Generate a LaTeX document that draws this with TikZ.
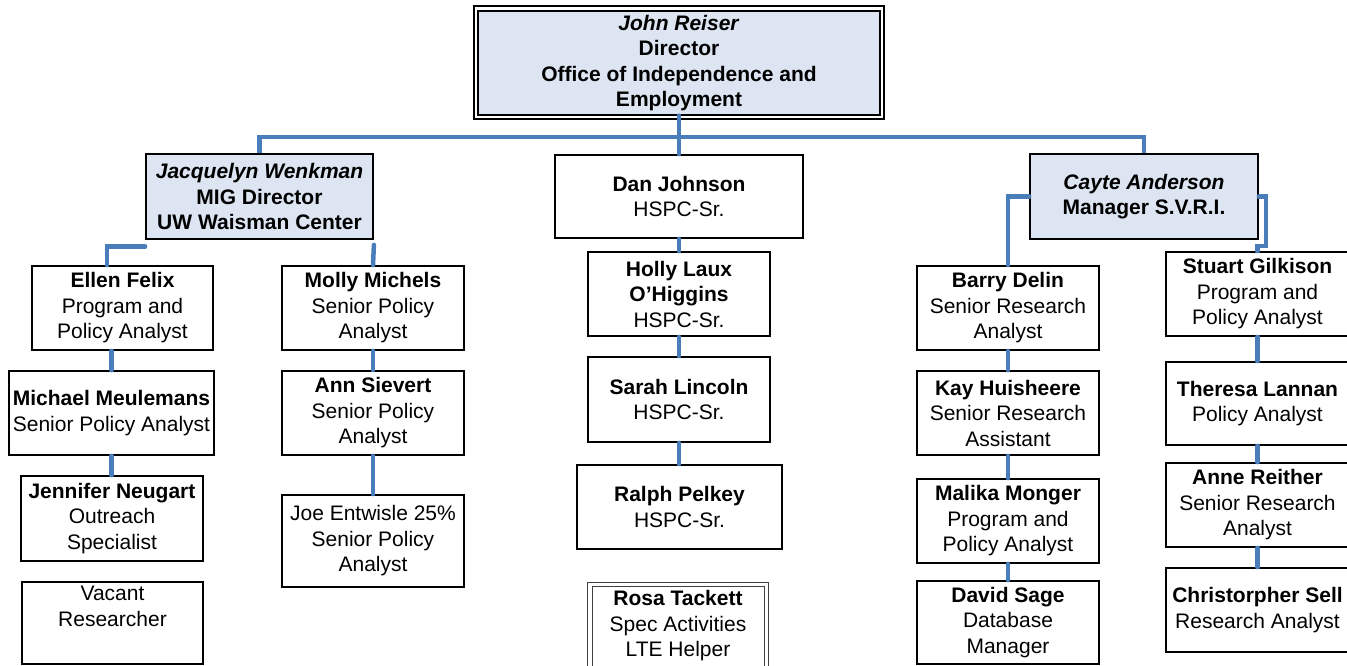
\documentclass[tikz,border=0pt]{standalone}
\usepackage{fontspec}
\setmainfont{Liberation Sans}
\definecolor{cblue}{RGB}{74,126,187}
\definecolor{lfill}{RGB}{220,229,241}
\newcommand\fsz{\fontsize{21}{25.5}\selectfont}
\begin{document}
\begin{tikzpicture}[x=1pt,y=-1pt,
  box/.style={draw=black, line width=1.8pt, align=center, inner sep=0pt, font=\fsz},
  hbox/.style={box, fill=lfill},
  conn/.style={draw=cblue, line width=4.5pt, line cap=round}]
\useasboundingbox (0,0) rectangle (1347,665);
\clip (0,0) rectangle (1347,665);
% top
\draw[line width=2.5pt] (474,6) rectangle (884,119);
\node[hbox, line width=1.3pt, minimum width=402pt, minimum height=104pt] (top) at (679,63)
  {\textbf{\textit{John Reiser}}\\\textbf{Director}\\\textbf{Office of Independence and}\\\textbf{Employment}};
% level 2
\node[hbox, minimum width=227pt, minimum height=85pt] (jw) at (259.5,196.5)
  {\textbf{\textit{Jacquelyn Wenkman}}\\\textbf{MIG Director}\\\textbf{UW Waisman Center}};
\node[box, minimum width=248pt, minimum height=83pt] (dan) at (679,196.5)
  {\textbf{Dan Johnson}\\HSPC-Sr.};
\node[hbox, minimum width=228pt, minimum height=85pt] (ca) at (1144,196.5)
  {\textbf{\textit{Cayte Anderson}}\\\textbf{Manager S.V.R.I.}};
% left column 1
\node[box, minimum width=181pt, minimum height=84pt] (ellen) at (122.5,308)
  {\textbf{Ellen Felix}\\Program and\\Policy Analyst};
\node[box, minimum width=205pt, minimum height=84pt] (michael) at (111.5,413)
  {\textbf{Michael Meulemans}\\Senior Policy Analyst};
\node[box, minimum width=182pt, minimum height=85pt] (jennifer) at (112,518.5)
  {\textbf{Jennifer Neugart}\\Outreach\\Specialist};
\node[box, minimum width=181pt, minimum height=82pt] (vacant) at (112.5,623)
  {Vacant\\Researcher\\\strut};
% left column 2
\node[box, minimum width=182pt, minimum height=84pt] (molly) at (373,308)
  {\textbf{Molly Michels}\\Senior Policy\\Analyst};
\node[box, minimum width=182pt, minimum height=84pt] (ann) at (373,413)
  {\textbf{Ann Sievert}\\Senior Policy\\Analyst};
\node[box, minimum width=182pt, minimum height=92pt] (joe) at (373,541)
  {Joe Entwisle 25\%\\Senior Policy\\Analyst};
% center column
\node[box, minimum width=182pt, minimum height=84pt] (holly) at (679,294)
  {\textbf{Holly Laux}\\\textbf{O’Higgins}\\HSPC-Sr.};
\node[box, minimum width=182pt, minimum height=85pt] (sarah) at (679,399.5)
  {\textbf{Sarah Lincoln}\\HSPC-Sr.};
\node[box, minimum width=205pt, minimum height=84pt] (ralph) at (679.5,507)
  {\textbf{Ralph Pelkey}\\HSPC-Sr.};
\draw[black!75, line width=1pt] (587.5,582.5) rectangle (768,667);
\node[box, draw=black!75, line width=1pt,
  minimum width=172pt, minimum height=80pt] (rosa) at (678,626)
  {\textbf{Rosa Tackett}\\Spec Activities\\LTE Helper};
% right column 1
\node[box, minimum width=182pt, minimum height=84pt] (barry) at (1008,308)
  {\textbf{Barry Delin}\\Senior Research\\Analyst};
\node[box, minimum width=182pt, minimum height=84pt] (kay) at (1008,413)
  {\textbf{Kay Huisheere}\\Senior Research\\Assistant};
\node[box, minimum width=182pt, minimum height=84pt] (malika) at (1008,521)
  {\textbf{Malika Monger}\\Program and\\Policy Analyst};
\node[box, minimum width=182pt, minimum height=83pt] (david) at (1008,622.5)
  {\textbf{David Sage}\\Database\\Manager};
% right column 2
\node[box, minimum width=183pt, minimum height=84pt] (stuart) at (1257.5,294)
  {\textbf{Stuart Gilkison}\\Program and\\Policy Analyst};
\node[box, minimum width=183pt, minimum height=83pt] (theresa) at (1257.5,403.5)
  {\textbf{Theresa Lannan}\\Policy Analyst};
\node[box, minimum width=183pt, minimum height=84pt] (anne) at (1257.5,505)
  {\textbf{Anne Reither}\\Senior Research\\Analyst};
\node[box, minimum width=183pt, minimum height=84pt] (chris) at (1257.5,610)
  {\textbf{Christorpher Sell}\\Research Analyst};
% connectors
\coordinate (bus) at (679,137);
\draw[conn] (top.south) -- (dan.north);
\draw[conn, line cap=butt] (jw.north) |- (bus) -| (ca.north);
\draw[conn] ([yshift=-6.5pt]jw.south west) -| ([xshift=-15.5pt]ellen.north);
\draw[conn] ([yshift=-5pt]jw.south east) -- (molly.north);
\draw[conn] (michael.north |- ellen.south) -- (michael.north);
\draw[conn] (michael.south) -- (michael.south |- jennifer.north);
\draw[conn] (molly.south) -- (ann.north);
\draw[conn] (ann.south) -- (joe.north);
\draw[conn] (dan.south) -- (holly.north);
\draw[conn] (holly.south) -- (sarah.north);
\draw[conn] (sarah.south) -- (sarah.south |- ralph.north);
\draw[conn] (ca.west) -| (barry.north);
\draw[conn] (ca.east) -- ++(7,0) |- ([yshift=5pt]stuart.north) -- (stuart.north);
\draw[conn] (barry.south) -- (kay.north);
\draw[conn] (kay.south) -- (malika.north);
\draw[conn] (malika.south) -- (david.north);
\draw[conn] (stuart.south) -- (theresa.north);
\draw[conn] (theresa.south) -- (anne.north);
\draw[conn] (anne.south) -- (chris.north);
\end{tikzpicture}
\end{document}
